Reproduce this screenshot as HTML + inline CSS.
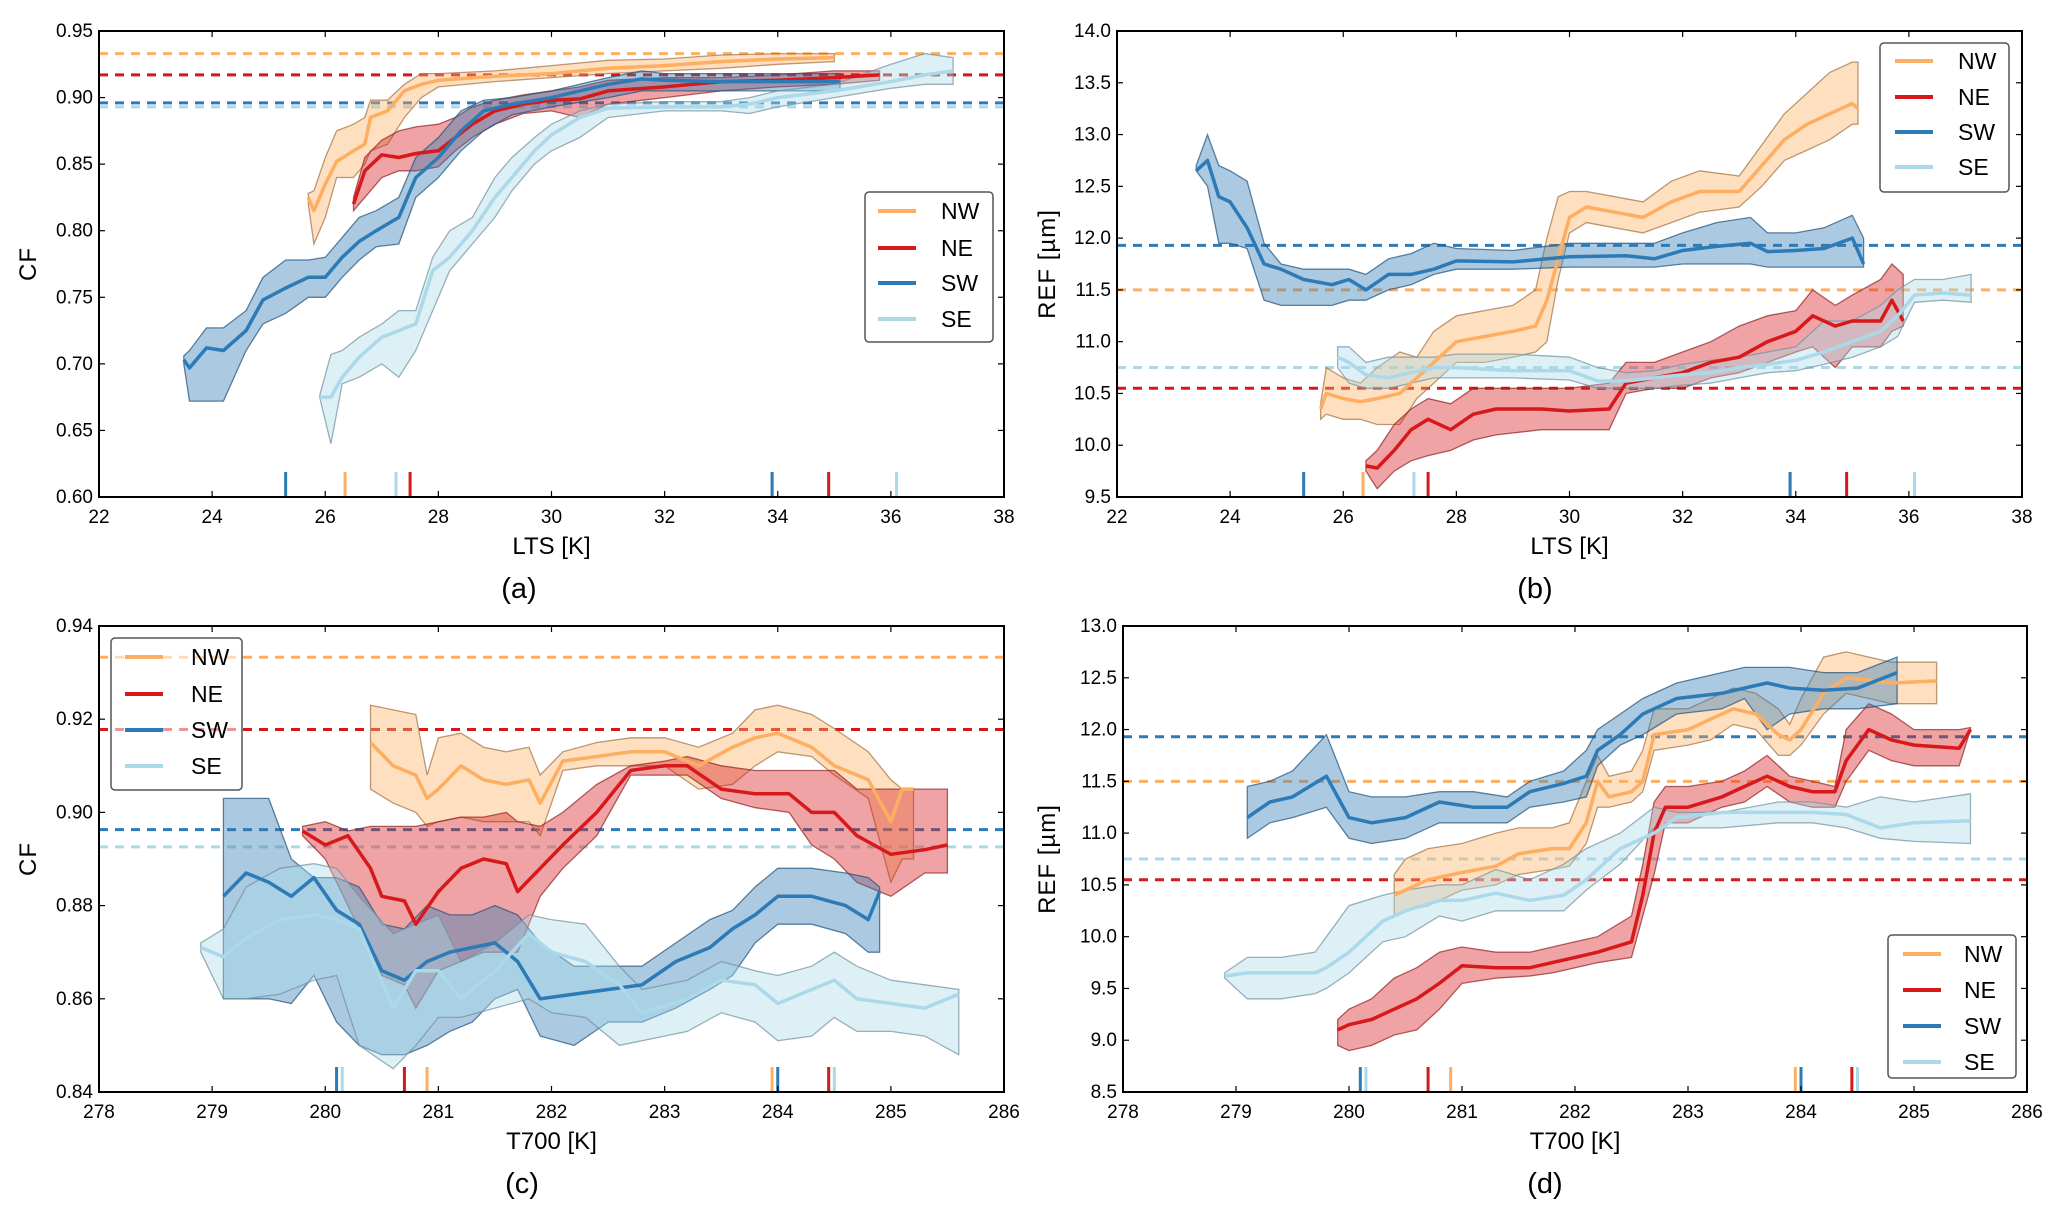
<!DOCTYPE html>
<html><head><meta charset="utf-8"><style>
html,body{margin:0;padding:0;background:#fff;}
svg{display:block;font-family:"Liberation Sans","DejaVu Sans",sans-serif;}
</style></head><body>
<svg id="fig" width="2067" height="1219" viewBox="0 0 2067 1219" xmlns="http://www.w3.org/2000/svg"></svg>
<script>
// ---------- Panel (a): CF vs LTS ----------
const aNWx=[25.7,25.8,26.0,26.2,26.5,26.7,26.8,27.1,27.4,27.7,28.0,29,30,31,32,33,34,35];
const aNWm=[.825,.815,.835,.852,.86,.865,.885,.89,.905,.91,.913,.916,.918,.922,.924,.927,.929,.930];
const aNWl=[.82,.79,.81,.84,.84,.85,.86,.865,.885,.90,.908,.912,.915,.918,.92,.922,.925,.927];
const aNWh=[.828,.83,.855,.875,.88,.885,.898,.898,.91,.918,.918,.92,.924,.928,.929,.932,.933,.933];
const aNEx=[26.5,26.7,27.0,27.3,27.6,28.0,28.3,28.6,29,29.5,30,30.5,31,32,33,34,35,35.8];
const aNEm=[.82,.845,.857,.855,.858,.86,.87,.88,.89,.895,.898,.899,.905,.908,.912,.913,.915,.917];
const aNEl=[.815,.825,.84,.845,.845,.848,.86,.87,.88,.888,.89,.885,.895,.9,.905,.908,.91,.913];
const aNEh=[.825,.855,.868,.875,.878,.88,.885,.893,.898,.902,.905,.908,.913,.915,.915,.917,.92,.92];
const aSWx=[23.5,23.6,23.9,24.2,24.6,24.9,25.3,25.7,26.0,26.3,26.6,26.9,27.3,27.6,28.0,28.4,28.8,29.3,30,31,31.6,32,33,34,35.1];
const aSWm=[.703,.697,.712,.71,.725,.748,.757,.765,.765,.78,.792,.80,.81,.84,.855,.875,.89,.895,.9,.91,.914,.913,.912,.912,.912];
const aSWl=[.70,.672,.672,.672,.71,.73,.738,.75,.75,.765,.778,.788,.79,.825,.84,.86,.875,.887,.893,.9,.905,.905,.905,.905,.905];
const aSWh=[.706,.71,.727,.727,.74,.765,.778,.778,.78,.795,.81,.815,.825,.855,.87,.89,.898,.9,.905,.915,.92,.918,.918,.918,.918];
const aSEx=[25.9,26.1,26.3,26.6,27.0,27.3,27.6,27.9,28.2,28.6,29.0,29.3,29.7,30.0,30.5,31,32,33,33.5,34,35,36,36.6,37.1];
const aSEm=[.675,.675,.69,.705,.72,.725,.73,.77,.78,.80,.825,.84,.86,.872,.885,.892,.893,.893,.895,.9,.905,.912,.917,.92];
const aSEl=[.675,.64,.685,.69,.70,.69,.71,.74,.77,.79,.81,.83,.85,.86,.87,.885,.89,.89,.888,.893,.9,.907,.91,.91];
const aSEh=[.676,.707,.71,.72,.73,.74,.74,.78,.80,.81,.84,.855,.87,.88,.89,.895,.897,.897,.9,.905,.91,.925,.933,.93];
const aMeans=[.933,.917,.896,.893];
const aRug=[[26.35,33.9],[27.5,34.9],[25.3,33.9],[27.25,36.1]];
const aXticks=[22,24,26,28,30,32,34,36,38];
const aYticks=[0.60,0.65,0.70,0.75,0.80,0.85,0.90,0.95];

// ---------- Panel (b): REF vs LTS ----------
const bNWx=[25.6,25.7,26.0,26.3,26.6,27.0,27.3,27.6,28.0,28.5,29.0,29.4,29.6,29.8,30.0,30.3,30.8,31.3,31.8,32.3,33,33.4,33.8,34.2,34.6,35.0,35.1];
const bNWm=[10.35,10.5,10.45,10.42,10.45,10.5,10.65,10.8,11.0,11.05,11.1,11.15,11.4,11.8,12.2,12.3,12.25,12.2,12.35,12.45,12.45,12.7,12.95,13.1,13.2,13.3,13.25];
const bNWl=[10.25,10.3,10.25,10.25,10.2,10.2,10.45,10.6,10.8,10.8,10.85,10.9,11.0,11.6,12.05,12.15,12.1,12.05,12.15,12.25,12.3,12.5,12.75,12.85,12.95,13.1,13.1];
const bNWh=[10.4,10.75,10.65,10.6,10.75,10.9,10.85,11.1,11.25,11.3,11.35,11.5,12.0,12.4,12.45,12.45,12.4,12.35,12.55,12.65,12.6,12.9,13.2,13.4,13.6,13.7,13.7];
const bNEx=[26.4,26.6,26.9,27.2,27.5,27.9,28.3,28.7,29.5,30.0,30.7,31.0,31.5,32,32.5,33,33.5,34,34.3,34.7,35,35.5,35.7,35.9];
const bNEm=[9.8,9.78,9.95,10.15,10.25,10.15,10.3,10.35,10.35,10.33,10.35,10.6,10.65,10.7,10.8,10.85,11.0,11.1,11.25,11.15,11.2,11.2,11.4,11.2];
const bNEl=[9.75,9.58,9.75,9.85,9.9,9.95,10.05,10.1,10.15,10.15,10.15,10.5,10.55,10.55,10.65,10.7,10.8,10.9,10.95,10.75,10.95,10.95,11.1,11.15];
const bNEh=[9.85,9.95,10.2,10.35,10.45,10.4,10.55,10.55,10.55,10.55,10.6,10.8,10.8,10.9,11.0,11.15,11.25,11.3,11.5,11.35,11.45,11.6,11.75,11.65];
const bSWx=[23.4,23.6,23.8,24.0,24.3,24.6,24.9,25.3,25.8,26.1,26.4,26.8,27.2,27.6,28.0,29,30,31,31.5,32,32.6,33.2,33.5,34,34.5,35.0,35.2];
const bSWm=[12.65,12.75,12.4,12.35,12.1,11.75,11.7,11.6,11.55,11.6,11.5,11.65,11.65,11.7,11.78,11.77,11.82,11.83,11.8,11.88,11.92,11.95,11.87,11.88,11.9,12.0,11.75];
const bSWl=[12.65,12.5,11.95,11.95,11.9,11.4,11.35,11.35,11.35,11.4,11.4,11.5,11.55,11.65,11.7,11.7,11.72,11.72,11.72,11.75,11.75,11.75,11.72,11.72,11.72,11.72,11.72];
const bSWh=[12.7,13.0,12.7,12.65,12.55,11.95,11.75,11.7,11.7,11.7,11.65,11.8,11.85,11.95,11.9,11.88,11.95,11.95,11.95,12.05,12.15,12.2,12.05,12.05,12.1,12.22,12.0];
const bSEx=[25.9,26.1,26.4,26.8,27.2,27.6,28,29,30,30.5,31,31.5,32,32.5,33,33.5,34,34.5,35,35.5,35.8,36.1,36.6,37.1];
const bSEm=[10.85,10.8,10.68,10.65,10.7,10.75,10.75,10.72,10.72,10.62,10.62,10.65,10.68,10.7,10.75,10.78,10.82,10.9,11.0,11.1,11.25,11.45,11.47,11.45];
const bSEl=[10.75,10.6,10.55,10.55,10.6,10.65,10.65,10.65,10.63,10.55,10.55,10.55,10.58,10.6,10.65,10.7,10.72,10.78,10.85,10.95,11.05,11.38,11.4,11.38];
const bSEh=[10.95,10.95,10.8,10.85,10.85,10.85,10.88,10.88,10.85,10.75,10.7,10.72,10.78,10.82,10.85,10.9,10.95,11.2,11.2,11.35,11.5,11.6,11.6,11.65];
const bMeans=[11.5,10.55,11.93,10.75];
const bRug=[[26.35,33.9],[27.5,34.9],[25.3,33.9],[27.25,36.1]];
const bXticks=[22,24,26,28,30,32,34,36,38];
const bYticks=[9.5,10.0,10.5,11.0,11.5,12.0,12.5,13.0,13.5,14.0];

// ---------- Panel (c): CF vs T700 ----------
const cNWx=[280.4,280.6,280.8,280.9,281.0,281.2,281.4,281.6,281.8,281.9,282.1,282.4,282.7,283.0,283.3,283.6,283.8,284.0,284.3,284.5,284.8,285.0,285.1,285.2];
const cNWm=[.915,.91,.908,.903,.905,.91,.907,.906,.907,.902,.911,.912,.913,.913,.91,.914,.916,.917,.914,.91,.907,.898,.905,.905];
const cNWl=[.905,.902,.9,.897,.898,.899,.898,.898,.898,.895,.909,.91,.91,.91,.905,.906,.91,.913,.912,.908,.903,.885,.89,.89];
const cNWh=[.923,.922,.921,.908,.916,.917,.914,.913,.914,.908,.913,.915,.916,.916,.914,.917,.922,.923,.921,.918,.913,.907,.905,.905];
const cNEx=[279.8,280.0,280.2,280.4,280.5,280.7,280.8,281.0,281.2,281.4,281.6,281.7,281.9,282.1,282.4,282.7,283.0,283.2,283.5,283.8,284.1,284.3,284.5,284.7,285.0,285.3,285.5];
const cNEm=[.896,.893,.895,.888,.882,.881,.876,.883,.888,.89,.889,.883,.888,.893,.9,.909,.91,.91,.905,.904,.904,.9,.9,.895,.891,.892,.893];
const cNEl=[.895,.89,.88,.87,.865,.863,.858,.866,.868,.87,.87,.87,.882,.888,.895,.908,.908,.908,.903,.901,.9,.893,.89,.885,.882,.887,.887];
const cNEh=[.897,.898,.896,.897,.897,.897,.897,.898,.899,.899,.9,.898,.897,.9,.906,.91,.911,.912,.91,.909,.909,.909,.909,.905,.905,.905,.905];
const cSWx=[279.1,279.3,279.5,279.7,279.9,280.1,280.3,280.5,280.7,280.9,281.1,281.3,281.5,281.7,281.9,282.2,282.5,282.8,283.1,283.4,283.6,283.8,284.0,284.3,284.6,284.8,284.9];
const cSWm=[.882,.887,.885,.882,.886,.879,.876,.866,.864,.868,.87,.871,.872,.868,.86,.861,.862,.863,.868,.871,.875,.878,.882,.882,.88,.877,.883];
const cSWl=[.86,.86,.86,.859,.865,.855,.85,.848,.848,.85,.853,.855,.86,.862,.852,.85,.855,.855,.858,.862,.865,.872,.876,.876,.874,.87,.87];
const cSWh=[.903,.903,.903,.89,.886,.886,.884,.876,.875,.88,.878,.878,.88,.878,.872,.867,.867,.867,.872,.877,.879,.884,.888,.888,.887,.886,.884];
const cSEx=[278.9,279.1,279.3,279.6,279.9,280.1,280.3,280.6,280.8,281.0,281.2,281.5,281.8,282.0,282.3,282.6,282.8,283.2,283.5,283.8,284.0,284.3,284.5,284.7,285.0,285.3,285.6];
const cSEm=[.871,.869,.873,.877,.878,.877,.875,.858,.866,.866,.86,.866,.874,.87,.868,.863,.857,.86,.864,.863,.859,.862,.864,.86,.859,.858,.861];
const cSEl=[.87,.86,.86,.861,.864,.865,.85,.845,.85,.856,.856,.858,.86,.857,.856,.85,.851,.853,.857,.855,.851,.852,.856,.853,.853,.852,.848];
const cSEh=[.872,.875,.884,.888,.889,.888,.882,.874,.876,.878,.868,.872,.878,.877,.876,.867,.862,.864,.868,.866,.865,.867,.87,.867,.864,.863,.862];
const cMeans=[.9333,.9178,.8963,.8926];
const cRug=[[280.9,283.95],[280.7,284.45],[280.1,284.0],[280.15,284.5]];
const cXticks=[278,279,280,281,282,283,284,285,286];
const cYticks=[0.84,0.86,0.88,0.90,0.92,0.94];

// ---------- Panel (d): REF vs T700 ----------
const dNWx=[280.4,280.5,280.7,281.0,281.3,281.5,281.8,281.95,282.1,282.2,282.3,282.5,282.6,282.7,283.0,283.2,283.4,283.6,283.8,283.9,284.0,284.2,284.4,284.8,285.2];
const dNWm=[10.4,10.45,10.55,10.62,10.68,10.8,10.85,10.85,11.1,11.5,11.35,11.4,11.5,11.95,12.0,12.1,12.2,12.15,11.95,11.9,12.0,12.35,12.5,12.45,12.47];
const dNWl=[10.2,10.25,10.3,10.45,10.5,10.6,10.65,10.68,10.9,11.25,11.25,11.3,11.4,11.8,11.85,11.9,12.05,12.0,11.75,11.75,11.85,12.15,12.35,12.25,12.25];
const dNWh=[10.6,10.75,10.85,10.9,11.0,11.05,11.05,11.1,11.5,11.75,11.55,11.6,11.8,12.2,12.2,12.3,12.4,12.35,12.2,12.05,12.3,12.7,12.75,12.65,12.65];
const dNEx=[279.9,280.0,280.2,280.4,280.6,280.8,281.0,281.3,281.6,281.8,282.0,282.2,282.5,282.6,282.7,282.8,283.0,283.3,283.5,283.7,283.9,284.1,284.3,284.4,284.6,284.8,285.0,285.4,285.5];
const dNEm=[9.1,9.15,9.2,9.3,9.4,9.55,9.72,9.7,9.7,9.75,9.8,9.85,9.95,10.4,11.0,11.25,11.25,11.35,11.45,11.55,11.45,11.4,11.4,11.7,12.0,11.9,11.85,11.82,12.0];
const dNEl=[8.95,8.9,8.95,9.05,9.1,9.3,9.55,9.6,9.62,9.65,9.7,9.75,9.8,10.2,10.6,11.1,11.1,11.25,11.3,11.45,11.3,11.25,11.25,11.5,11.8,11.7,11.65,11.65,12.0];
const dNEh=[9.2,9.3,9.4,9.6,9.7,9.85,9.9,9.85,9.85,9.9,9.95,10.0,10.2,10.7,11.3,11.45,11.45,11.5,11.6,11.75,11.55,11.5,11.45,12.0,12.25,12.15,12.0,12.0,12.02];
const dSWx=[279.1,279.3,279.5,279.8,280.0,280.2,280.5,280.8,281.1,281.4,281.6,281.9,282.1,282.2,282.4,282.6,282.9,283.3,283.5,283.7,283.9,284.2,284.5,284.85];
const dSWm=[11.15,11.3,11.35,11.55,11.15,11.1,11.15,11.3,11.25,11.25,11.4,11.48,11.55,11.8,11.95,12.15,12.3,12.35,12.4,12.45,12.4,12.38,12.4,12.55];
const dSWl=[10.95,11.1,11.15,11.25,10.95,10.9,10.95,11.1,11.1,11.1,11.25,11.3,11.35,11.65,11.85,11.95,12.15,12.2,12.3,12.0,12.15,12.2,12.2,12.25];
const dSWh=[11.45,11.5,11.6,11.95,11.4,11.35,11.35,11.4,11.4,11.35,11.5,11.6,11.8,12.0,12.15,12.3,12.45,12.55,12.6,12.6,12.6,12.55,12.55,12.7];
const dSEx=[278.9,279.1,279.4,279.7,279.8,280.0,280.3,280.5,280.8,281.0,281.3,281.6,281.9,282.1,282.4,282.7,282.9,283.3,283.8,284.1,284.4,284.7,285.0,285.5];
const dSEm=[9.62,9.65,9.65,9.65,9.7,9.85,10.15,10.25,10.35,10.35,10.42,10.35,10.4,10.55,10.85,11.0,11.15,11.2,11.2,11.2,11.18,11.05,11.1,11.12];
const dSEl=[9.6,9.4,9.4,9.45,9.5,9.65,9.95,10.0,10.2,10.15,10.25,10.25,10.25,10.45,10.7,11.05,11.05,11.05,11.1,11.1,11.05,10.95,10.92,10.9];
const dSEh=[9.65,9.8,9.8,9.85,10.0,10.3,10.4,10.45,10.5,10.5,10.65,10.55,10.7,10.85,11.0,11.25,11.2,11.2,11.3,11.3,11.25,11.35,11.3,11.38];
const dMeans=[11.5,10.55,11.93,10.75];
const dRug=[[280.9,283.95],[280.7,284.45],[280.1,284.0],[280.15,284.5]];
const dXticks=[278,279,280,281,282,283,284,285,286];
const dYticks=[8.5,9.0,9.5,10.0,10.5,11.0,11.5,12.0,12.5,13.0];

const regions=['NW','NE','SW','SE'];
const COL={NW:'#fdae61',NE:'#d7191c',SW:'#2c7bb6',SE:'#abd9e9'};
const EDGE={NW:'#a07040',NE:'#902020',SW:'#20507a',SE:'#7090a0'};
const NS='http://www.w3.org/2000/svg';
const fig=document.getElementById('fig');
function mk(tag,attrs,parent){const e=document.createElementNS(NS,tag);for(const k in attrs)e.setAttribute(k,attrs[k]);(parent||fig).appendChild(e);return e;}

function panel(cfg){
  const g=mk('g',{});
  
  
  const X=v=>cfg.x0+(v-cfg.xd[0])/(cfg.xd[1]-cfg.xd[0])*(cfg.x1-cfg.x0);
  const Y=v=>cfg.y1-(v-cfg.yd[0])/(cfg.yd[1]-cfg.yd[0])*(cfg.y1-cfg.y0);
  const clipId='clip'+cfg.id;
  const cp=mk('clipPath',{id:clipId},g);
  mk('rect',{x:cfg.x0,y:cfg.y0,width:cfg.x1-cfg.x0,height:cfg.y1-cfg.y0},cp);
  const plot=mk('g',{'clip-path':'url(#'+clipId+')'},g);
  cfg.means.forEach((m,i)=>{
    const l=mk('line',{x1:cfg.x0,x2:cfg.x1,y1:Y(m),y2:Y(m),stroke:COL[regions[i]],'stroke-width':3,'stroke-dasharray':'9,7'},plot);
    
    
  });
  cfg.series.forEach((s,i)=>{
    const r=regions[i];
    let pts=s.x.map((x,j)=>X(x).toFixed(1)+','+Y(s.h[j]).toFixed(1));
    for(let j=s.x.length-1;j>=0;j--)pts.push(X(s.x[j]).toFixed(1)+','+Y(s.l[j]).toFixed(1));
    const band=mk('polygon',{points:pts.join(' '),fill:COL[r],'fill-opacity':0.4,stroke:EDGE[r],'stroke-opacity':0.7,'stroke-width':1.3},plot);
    
    
  });
  cfg.series.forEach((s,i)=>{
    const r=regions[i];
    const d=s.x.map((x,j)=>(j?'L':'M')+X(x).toFixed(1)+','+Y(s.m[j]).toFixed(1)).join('');
    const p=mk('path',{d:d,fill:'none',stroke:COL[r],'stroke-width':3.5,'stroke-linejoin':'round'},plot);
    
    
  });
  cfg.rug.forEach((arr,i)=>{arr.forEach(v=>{
    const t=mk('line',{x1:X(v),x2:X(v),y1:cfg.y1,y2:cfg.y1-25,stroke:COL[regions[i]],'stroke-width':3},plot);
    
    
  });});
  const fr=mk('rect',{x:cfg.x0,y:cfg.y0,width:cfg.x1-cfg.x0,height:cfg.y1-cfg.y0,fill:'none',stroke:'#000','stroke-width':2},g);
  
  
  cfg.xt.forEach(v=>{
    mk('line',{x1:X(v),x2:X(v),y1:cfg.y1,y2:cfg.y1-6,stroke:'#000','stroke-width':1.2},g);
    mk('line',{x1:X(v),x2:X(v),y1:cfg.y0,y2:cfg.y0+6,stroke:'#000','stroke-width':1.2},g);
    const t=mk('text',{x:X(v),y:cfg.y1+26,'font-size':19,'text-anchor':'middle'},g);
    t.textContent=String(v);
    
    
  });
  cfg.yt.forEach(v=>{
    mk('line',{x1:cfg.x0,x2:cfg.x0+6,y1:Y(v),y2:Y(v),stroke:'#000','stroke-width':1.2},g);
    mk('line',{x1:cfg.x1,x2:cfg.x1-6,y1:Y(v),y2:Y(v),stroke:'#000','stroke-width':1.2},g);
    const t=mk('text',{x:cfg.x0-6,y:Y(v)+6,'font-size':19,'text-anchor':'end'},g);
    t.textContent=v.toFixed(cfg.yfmt);
    
    
  });
  const xl=mk('text',{x:(cfg.x0+cfg.x1)/2,y:cfg.y1+57,'font-size':24,'text-anchor':'middle'},g);
  xl.textContent=cfg.xlabel;
  
  
  const yc=(cfg.y0+cfg.y1)/2;
  const yl=mk('text',{x:cfg.ylx,y:yc,'font-size':24,'text-anchor':'middle',transform:'rotate(-90 '+cfg.ylx+' '+yc+')','letter-spacing':'1'},g);
  yl.textContent=cfg.ylabel;
  
  
  const pl=mk('text',{x:cfg.plx,y:cfg.y1+101,'font-size':29,'text-anchor':'middle'},g);
  pl.textContent=cfg.plabel;
  
  
  const L=cfg.leg;
  const lg=mk('g',{},g);
  
  
  mk('rect',{x:L.x,y:L.y,width:L.w,height:L.h,rx:4,fill:'#fff','fill-opacity':0.55,stroke:'#555','stroke-width':1.5},lg);
  regions.forEach((r,i)=>{
    const yy=L.ey[i];
    const ln=mk('line',{x1:L.lx,x2:L.lx+38,y1:yy,y2:yy,stroke:COL[r],'stroke-width':4},lg);
    
    
    const t=mk('text',{x:L.tx,y:yy+8,'font-size':23},lg);
    t.textContent=r;
    
    
  });
}

panel({id:'a',name:'panel-a-cf-vs-lts',x0:99,x1:1004,y0:31,y1:497,xd:[22,38],yd:[0.60,0.95],xt:aXticks,yt:aYticks,yfmt:2,
  xlabel:'LTS [K]',ylabel:'CF',ylx:36,plx:519,plabel:'(a)',means:aMeans,rug:aRug,
  series:[{x:aNWx,m:aNWm,l:aNWl,h:aNWh},{x:aNEx,m:aNEm,l:aNEl,h:aNEh},{x:aSWx,m:aSWm,l:aSWl,h:aSWh},{x:aSEx,m:aSEm,l:aSEl,h:aSEh}],
  leg:{x:865,y:192,w:128,h:150,lx:878,tx:941,ey:[211,248,283,319]}});
panel({id:'b',name:'panel-b-ref-vs-lts',x0:1117,x1:2022,y0:31,y1:497,xd:[22,38],yd:[9.5,14.0],xt:bXticks,yt:bYticks,yfmt:1,
  xlabel:'LTS [K]',ylabel:'REF [µm]',ylx:1055,plx:1535,plabel:'(b)',means:bMeans,rug:bRug,
  series:[{x:bNWx,m:bNWm,l:bNWl,h:bNWh},{x:bNEx,m:bNEm,l:bNEl,h:bNEh},{x:bSWx,m:bSWm,l:bSWl,h:bSWh},{x:bSEx,m:bSEm,l:bSEl,h:bSEh}],
  leg:{x:1880,y:43,w:129,h:149,lx:1895,tx:1958,ey:[61,97,132,167]}});
panel({id:'c',name:'panel-c-cf-vs-t700',x0:99,x1:1004,y0:626,y1:1092,xd:[278,286],yd:[0.84,0.94],xt:cXticks,yt:cYticks,yfmt:2,
  xlabel:'T700 [K]',ylabel:'CF',ylx:36,plx:522,plabel:'(c)',means:cMeans,rug:cRug,
  series:[{x:cNWx,m:cNWm,l:cNWl,h:cNWh},{x:cNEx,m:cNEm,l:cNEl,h:cNEh},{x:cSWx,m:cSWm,l:cSWl,h:cSWh},{x:cSEx,m:cSEm,l:cSEl,h:cSEh}],
  leg:{x:111,y:638,w:131,h:152,lx:125,tx:191,ey:[657,694,730,766]}});
panel({id:'d',name:'panel-d-ref-vs-t700',x0:1123,x1:2027,y0:626,y1:1092,xd:[278,286],yd:[8.5,13.0],xt:dXticks,yt:dYticks,yfmt:1,
  xlabel:'T700 [K]',ylabel:'REF [µm]',ylx:1055,plx:1545,plabel:'(d)',means:dMeans,rug:dRug,
  series:[{x:dNWx,m:dNWm,l:dNWl,h:dNWh},{x:dNEx,m:dNEm,l:dNEl,h:dNEh},{x:dSWx,m:dSWm,l:dSWl,h:dSWh},{x:dSEx,m:dSEm,l:dSEl,h:dSEh}],
  leg:{x:1888,y:935,w:128,h:143,lx:1903,tx:1964,ey:[954,990,1026,1062]}});
</script>
</body></html>
